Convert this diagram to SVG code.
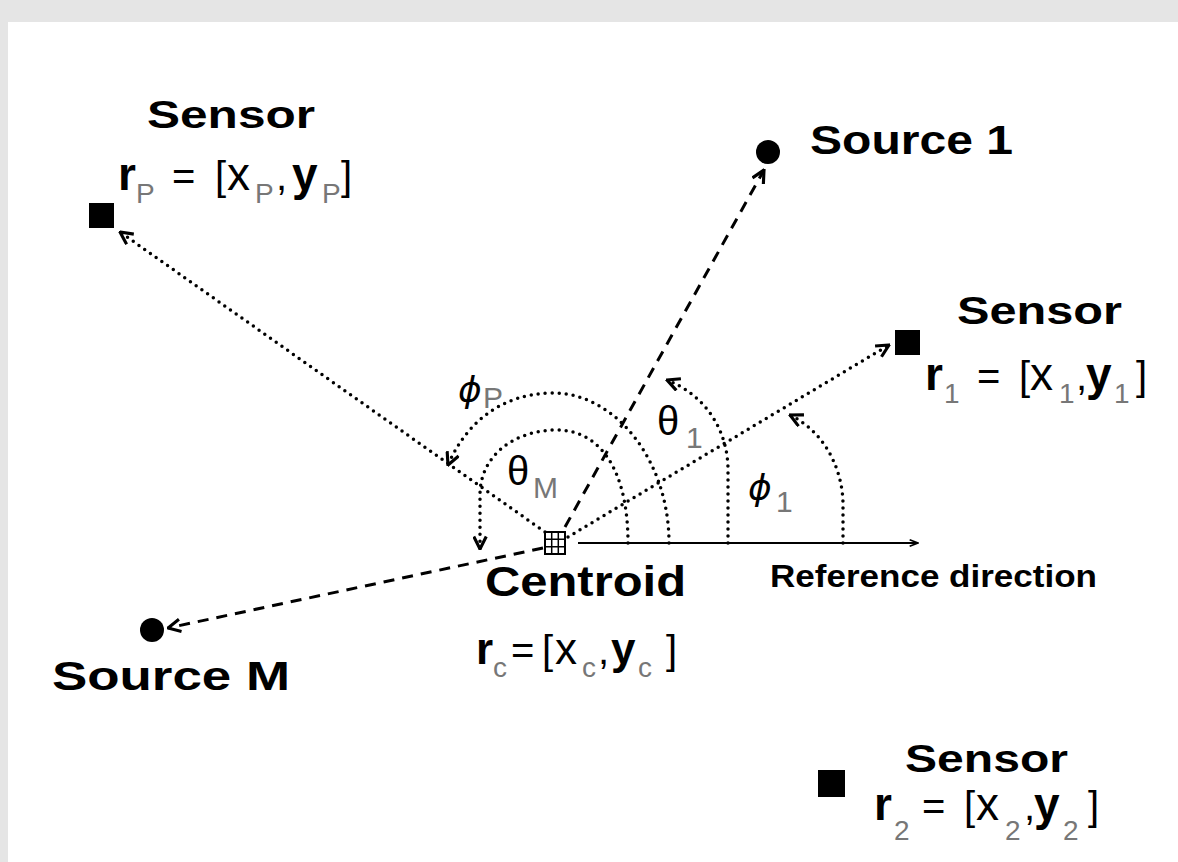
<svg xmlns="http://www.w3.org/2000/svg" width="1178" height="862" viewBox="0 0 1178 862">
<defs>
<style>
.dot{fill:none;stroke:#000;stroke-width:3.5;stroke-linecap:round;stroke-dasharray:0 7}
.dash{fill:none;stroke:#000;stroke-width:3;stroke-dasharray:11 8}
.b{font-family:"Liberation Sans",Arial,sans-serif;font-weight:bold;fill:#000}
.m{font-family:"Liberation Sans",Arial,sans-serif;fill:#000}
.mb{font-weight:bold}
.sub{font-size:28px;fill:#777;font-weight:normal}
.br{font-size:40px}
.gk{font-family:"DejaVu Sans",sans-serif;font-style:italic;font-size:36px;fill:#000}
.th{font-family:"Liberation Sans",Arial,sans-serif;font-size:40px;fill:#000}
.gs{font-family:"Liberation Sans",Arial,sans-serif;font-size:30px;fill:#777}
</style>
<marker id="chev" viewBox="0 0 12 12" refX="11" refY="6" markerWidth="15" markerHeight="15" markerUnits="userSpaceOnUse" orient="auto"><path d="M1,1 L11,6 L1,11" fill="none" stroke="#000" stroke-width="2.5"/></marker>
<marker id="refarr" viewBox="0 0 12 12" refX="11" refY="6" markerWidth="10" markerHeight="10" markerUnits="userSpaceOnUse" orient="auto"><path d="M1,2 L11,6 L1,10" fill="none" stroke="#000" stroke-width="2"/></marker>
</defs>
<rect x="0" y="0" width="1178" height="862" fill="#e5e5e5"/>
<rect x="8" y="22" width="1170" height="840" fill="#fff"/>

<g id="connectors">
<path class="dot" d="M545,532 L120,232" marker-end="url(#chev)"/>
<path class="dash" d="M565,527 L764,170" marker-end="url(#chev)"/>
<path class="dot" d="M568,537 L889,345" marker-end="url(#chev)"/>
<path class="dash" d="M543,548 L168,628" marker-end="url(#chev)"/>
<path d="M578,543 L918,543" fill="none" stroke="#000" stroke-width="2" marker-end="url(#refarr)"/>
<path class="dot" d="M628,543 C628,470 600,430 557,430 C515,430 480,455 480,495 L480,549" marker-end="url(#chev)"/>
<path class="dot" d="M669,543 C669,460 615,393 553,393 C500,393 465,425 448,465" marker-end="url(#chev)"/>
<path class="dot" d="M728,543 L728,470 C728,430 705,395 667,380" marker-end="url(#chev)"/>
<path class="dot" d="M843,543 L843,505 C843,470 825,432 790,415" marker-end="url(#chev)"/>
</g>

<g id="sensorP">
<rect x="89" y="203" width="25" height="25" fill="#000"/>
<text class="b" x="147" y="128" font-size="39" textLength="168" lengthAdjust="spacingAndGlyphs">Sensor</text>
<text class="m" y="190" font-size="46"><tspan class="mb" x="118">r</tspan><tspan class="sub" x="136" y="203">P</tspan><tspan class="br" x="172" y="190">=</tspan><tspan class="br" x="215">[</tspan><tspan x="227">x</tspan><tspan class="sub" x="255" y="203">P</tspan><tspan class="br" x="276" y="190">,</tspan><tspan class="mb" x="292">y</tspan><tspan class="sub" x="322" y="203">P</tspan><tspan class="br" x="341" y="190">]</tspan></text>
</g>

<g id="source1">
<circle cx="768" cy="152" r="12" fill="#000"/>
<text class="b" x="810" y="154" font-size="40" textLength="203" lengthAdjust="spacingAndGlyphs">Source 1</text>
</g>

<g id="sensor1">
<rect x="895" y="330" width="25" height="25" fill="#000"/>
<text class="b" x="957" y="324" font-size="39" textLength="165" lengthAdjust="spacingAndGlyphs">Sensor</text>
<text class="m" y="390" font-size="46"><tspan class="mb" x="925">r</tspan><tspan class="sub" x="944" y="403">1</tspan><tspan class="br" x="977" y="390">=</tspan><tspan class="br" x="1019">[</tspan><tspan x="1030">x</tspan><tspan class="sub" x="1059" y="403">1</tspan><tspan class="br" x="1076" y="390">,</tspan><tspan class="mb" x="1086">y</tspan><tspan class="sub" x="1114" y="403">1</tspan><tspan class="br" x="1136" y="390">]</tspan></text>
</g>

<g id="sensor2">
<rect x="818" y="770" width="27" height="27" fill="#000"/>
<text class="b" x="905" y="772" font-size="39" textLength="163" lengthAdjust="spacingAndGlyphs">Sensor</text>
<text class="m" y="820" font-size="46"><tspan class="mb" x="874">r</tspan><tspan class="sub" x="894" y="840">2</tspan><tspan class="br" x="922" y="820">=</tspan><tspan class="br" x="964">[</tspan><tspan x="976">x</tspan><tspan class="sub" x="1005" y="840">2</tspan><tspan class="br" x="1024" y="820">,</tspan><tspan class="mb" x="1034">y</tspan><tspan class="sub" x="1063" y="840">2</tspan><tspan class="br" x="1088" y="820">]</tspan></text>
</g>

<g id="sourceM">
<circle cx="152" cy="630" r="12" fill="#000"/>
<text class="b" x="52" y="690" font-size="40" textLength="238" lengthAdjust="spacingAndGlyphs">Source M</text>
</g>

<g id="centroid">
<rect x="545" y="532" width="20" height="22" fill="#fff" stroke="#000" stroke-width="2"/>
<path d="M551.7,532 V554 M558.3,532 V554 M545,539.3 H565 M545,546.7 H565" stroke="#000" stroke-width="1.5"/>
<text class="b" x="485" y="596" font-size="42" textLength="201" lengthAdjust="spacingAndGlyphs">Centroid</text>
<text class="m" y="664" font-size="44"><tspan class="mb" x="476">r</tspan><tspan class="sub" x="493" y="677">c</tspan><tspan class="br" x="511" y="664">=</tspan><tspan class="br" x="542">[</tspan><tspan x="555">x</tspan><tspan class="sub" x="582" y="677">c</tspan><tspan class="br" x="598" y="664">,</tspan><tspan class="mb" x="611">y</tspan><tspan class="sub" x="638" y="677">c</tspan><tspan class="br" x="666" y="664">]</tspan></text>
</g>

<g id="reference">
<text class="b" x="770" y="587" font-size="32" textLength="327" lengthAdjust="spacingAndGlyphs">Reference direction</text>
</g>

<g id="angles">
<text class="gk" x="458" y="402">ϕ</text><text class="gs" x="483" y="408">P</text>
<text class="th" x="507" y="485">θ</text><text class="gs" x="533" y="498">M</text>
<text class="th" x="657" y="435">θ</text><text class="gs" x="686" y="448">1</text>
<text class="gk" x="748" y="500">ϕ</text><text class="gs" x="776" y="512">1</text>
</g>
</svg>
